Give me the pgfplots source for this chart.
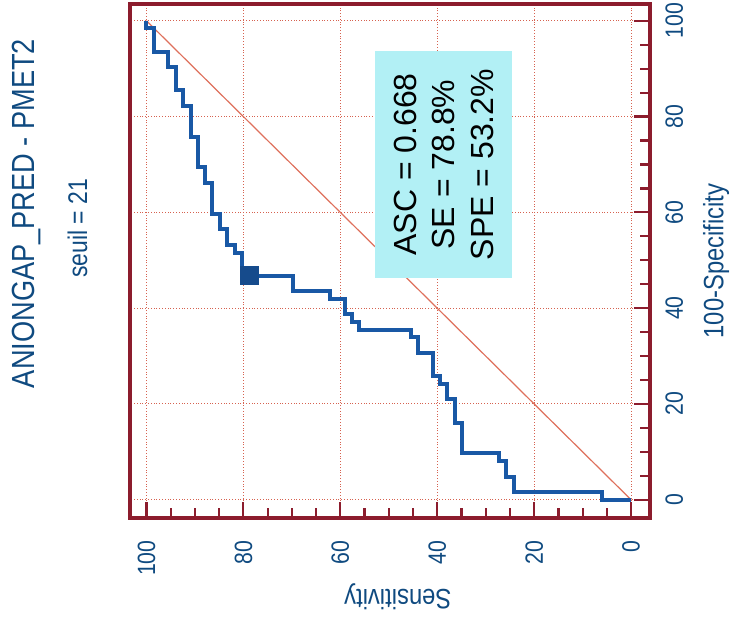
\documentclass[border=0pt]{standalone}
\usepackage{fontspec}
\setmainfont{Liberation Sans}
\newfontfamily\narrowfont{Liberation Sans}[FakeStretch=0.85]
\usepackage{pgfplots}
\pgfplotsset{compat=1.18}

\definecolor{rocblue}{RGB}{25,88,165}
\definecolor{markblue}{RGB}{22,75,140}
\definecolor{labelblue}{RGB}{15,74,128}
\definecolor{framered}{RGB}{140,28,45}
\definecolor{gridred}{RGB}{214,98,80}
\definecolor{diagred}{RGB}{222,112,92}
\definecolor{boxcyan}{RGB}{178,240,245}

\begin{document}
\begin{tikzpicture}
\useasboundingbox (-65pt,-50.5pt) rectangle (301.5pt,259pt);
\begin{axis}[
  scale only axis, width=260pt, height=257pt,
  x dir=reverse,
  xmin=-3.9, xmax=103.4, ymin=-3.8, ymax=103.5,
  xtick={0,20,...,100}, ytick={0,20,...,100},
  minor tick num=3,
  xtick pos=left, ytick pos=right,
  tick align=inside,
  major tick length=8pt, minor tick length=5pt,
  every tick/.style={framered, line width=1.1pt},
  axis line style={framered, line width=1.8pt},
  grid=major,
  major grid style={gridred, densely dotted, line width=0.5pt},
  yticklabel pos=right,
  /pgf/number format/assume math mode=true,
  ticklabel style={font=\narrowfont\fontsize{12.5}{15}\selectfont, text=labelblue, inner sep=0pt},
  xticklabel style={rotate=90, anchor=east},
  yticklabel style={rotate=90, anchor=north},
  xticklabel shift=11pt, yticklabel shift=7.5pt,
  xlabel={Sensitivity}, ylabel={100-Specificity},
  every axis x label/.style={at={(axis description cs:0.515,-0.154)}, anchor=center, rotate=180,
    font=\narrowfont\fontsize{14}{16}\selectfont, text=labelblue},
  every axis y label/.style={at={(axis description cs:1.127,0.50)}, anchor=center, rotate=90,
    font=\narrowfont\fontsize{14}{16}\selectfont, text=labelblue},
]
% chance line
\addplot[diagred, line width=0.6pt] coordinates {(100,100) (0,0)};
% empirical ROC curve (sensitivity, 100-specificity)
\addplot[rocblue, line width=2pt, line join=miter] coordinates {
  (100,100) (100,98.4) (98.5,98.4) (98.5,93.5) (95.5,93.5) (95.5,90.3)
  (93.9,90.3) (93.9,85.5) (92.4,85.5) (92.4,82.3) (90.9,82.3) (90.9,75.8)
  (89.4,75.8) (89.4,69.4) (87.9,69.4) (87.9,66.1) (86.4,66.1) (86.4,59.7)
  (84.8,59.7) (84.8,56.5) (83.3,56.5) (83.3,53.2) (81.8,53.2) (81.8,51.6)
  (80.3,51.6) (80.3,46.8) (78.8,46.8) (69.7,46.8) (69.7,43.5) (62.1,43.5)
  (62.1,41.9) (59.1,41.9) (59.1,38.7) (57.6,38.7) (57.6,37.1) (56.1,37.1)
  (56.1,35.5) (45.5,35.5) (45.5,33.9) (43.9,33.9) (43.9,30.6) (40.9,30.6)
  (40.9,25.8) (39.4,25.8) (39.4,24.2) (37.9,24.2) (37.9,21.0) (36.4,21.0)
  (36.4,16.1) (34.8,16.1) (34.8,9.7) (27.3,9.7) (27.3,8.1) (25.8,8.1)
  (25.8,4.8) (24.2,4.8) (24.2,1.6) (6.1,1.6) (6.1,0) (0,0)
};
% selected threshold
\addplot[only marks, mark=square*, mark size=4.5pt, markblue] coordinates {(78.8,46.8)};
\node[fill=boxcyan, rotate=90, minimum width=113.5pt, minimum height=68.5pt,
      align=center, inner sep=0pt, font=\fontsize{16}{19.25}\selectfont]
  at (axis cs:38.7,70) {ASC = 0.668\\SE = 78.8\%\\SPE = 53.2\%};
\end{axis}
\node[rotate=90, text=labelblue, font=\narrowfont\fontsize{16}{19}\selectfont]
  at (-51.75pt,152.25pt) {ANIONGAP\_PRED - PMET2};
\node[rotate=90, text=labelblue, font=\narrowfont\fontsize{13.5}{16}\selectfont]
  at (-26.25pt,144.75pt) {seuil = 21};
\end{tikzpicture}
\end{document}
